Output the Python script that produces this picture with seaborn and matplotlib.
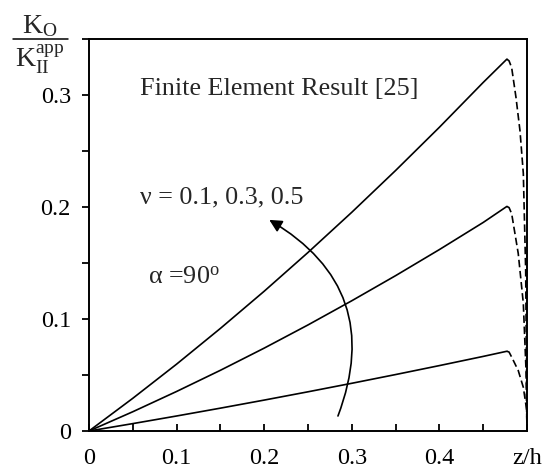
import matplotlib
matplotlib.use("Agg")
import matplotlib.pyplot as plt
import numpy as np
import pandas as pd
import seaborn as sns
from matplotlib.patches import FancyArrowPatch
from matplotlib.lines import Line2D
from matplotlib.ticker import FixedLocator

# Normalised crack-front position z/h and K_O / K_II^app for three Poisson ratios
z_solid = [0.0, 0.05, 0.10, 0.15, 0.20, 0.25, 0.30, 0.35, 0.40, 0.45, 0.477]
k_nu01 = [0.0, 0.0066, 0.0134, 0.0204, 0.0276, 0.0350, 0.0426, 0.0504, 0.0584, 0.0666, 0.0712]
k_nu03 = [0.0, 0.0172, 0.0353, 0.0542, 0.0740, 0.0947, 0.1163, 0.1387, 0.1620, 0.1862, 0.2005]
k_nu05 = [0.0, 0.0292, 0.0597, 0.0916, 0.1248, 0.1594, 0.1953, 0.2326, 0.2712, 0.3112, 0.3320]

# Boundary-layer drop near the free surface (dashed)
z_tail_nu01 = [0.477, 0.4795, 0.4825, 0.490, 0.4958, 0.4996, 0.5]
k_tail_nu01 = [0.0712, 0.0705, 0.0660, 0.0540, 0.0390, 0.0190, 0.0]
z_tail_nu03 = [0.477, 0.4795, 0.4825, 0.490, 0.4958, 0.4989, 0.5]
k_tail_nu03 = [0.2005, 0.1995, 0.1940, 0.1585, 0.1140, 0.0540, 0.0]
z_tail_nu05 = [0.477, 0.4795, 0.4825, 0.4874, 0.492, 0.4958, 0.4985, 0.5]
k_tail_nu05 = [0.3320, 0.3305, 0.3244, 0.2980, 0.2680, 0.2300, 0.1430, 0.0]

nu_values = [0.1, 0.3, 0.5]
x_ticks = [0.0, 0.1, 0.2, 0.3, 0.4, 0.5]
x_ticklabels = ["0", "0.1", "0.2", "0.3", "0.4", "z/h"]
y_ticks = [0.0, 0.1, 0.2, 0.3]
y_ticklabels = ["0", "0.1", "0.2", "0.3"]

solid = pd.concat([
    pd.DataFrame({"z": z_solid, "K": k, "nu": nu})
    for nu, k in zip(nu_values, [k_nu01, k_nu03, k_nu05])
])
tail = pd.concat([
    pd.DataFrame({"z": zz, "K": kk, "nu": nu})
    for nu, zz, kk in zip(nu_values,
                          [z_tail_nu01, z_tail_nu03, z_tail_nu05],
                          [k_tail_nu01, k_tail_nu03, k_tail_nu05])
])

sns.set_style("ticks")
plt.rcParams["font.family"] = ["Liberation Serif", "DejaVu Serif"]
plt.rcParams["mathtext.fontset"] = "custom"
plt.rcParams["mathtext.rm"] = "Liberation Serif"
plt.rcParams["mathtext.it"] = "Liberation Serif:italic"

fig = plt.figure(figsize=(5.52, 4.71), dpi=100)
fig.patch.set_facecolor("white")
ax = fig.add_axes([89 / 552, 40 / 471, 438 / 552, 392 / 471])
ax.set_facecolor("white")

sns.lineplot(data=solid, x="z", y="K", units="nu", estimator=None, sort=False,
             color="black", lw=1.2, ax=ax)
sns.lineplot(data=tail, x="z", y="K", units="nu", estimator=None, sort=False,
             color="black", lw=1.2, linestyle=(0, (4.5, 2.2)), ax=ax)

ax.set_xlim(0, 0.5)
ax.set_ylim(0, 0.35)
ax.set_xlabel("")
ax.set_ylabel("")

ax.set_xticks(x_ticks)
ax.set_xticklabels(x_ticklabels)
ax.xaxis.set_minor_locator(FixedLocator([0.05, 0.15, 0.25, 0.35, 0.45]))
ax.set_yticks(y_ticks)
ax.set_yticklabels(y_ticklabels)
ax.yaxis.set_minor_locator(FixedLocator([0.05, 0.15, 0.25, 0.35]))

ax.tick_params(axis="x", which="both", direction="in", length=5, width=1.3,
               labelsize=17.5, pad=12, colors="black")
ax.tick_params(axis="y", which="both", direction="out", length=5, width=1.3,
               labelsize=17.5, pad=8, colors="black")
for side in ["left", "right", "top", "bottom"]:
    ax.spines[side].set_visible(True)
    ax.spines[side].set_linewidth(1.4)
    ax.spines[side].set_color("black")

ax.text(0.0582, 0.300, "Finite Element Result [25]", fontsize=18.8, va="baseline")
ax.text(0.0582, 0.2033, "ν = 0.1, 0.3, 0.5", fontsize=18.8, va="baseline")
ax.text(0.0677, 0.1315, r"α =90$^{\mathrm{o}}$", fontsize=18.8, va="baseline")

arrow = FancyArrowPatch(posA=(0.2842, 0.0134), posB=(0.2058, 0.1885),
                        connectionstyle="arc3,rad=0.42",
                        arrowstyle="-|>,head_length=7.5,head_width=3.8",
                        color="black", lw=1.2, shrinkA=0, shrinkB=0,
                        mutation_scale=1, transform=ax.transData)
ax.add_patch(arrow)

# Stacked y-axis quantity K_O / K_II^app
fig.text(22 / 552, 1 - 33 / 471, r"$\mathrm{K_O}$", fontsize=20, va="baseline")
fig.add_artist(Line2D([13 / 552, 68 / 552], [1 - 39 / 471, 1 - 39 / 471],
                      color="black", lw=1.1, transform=fig.transFigure))
fig.text(15 / 552, 1 - 68 / 471, r"$\mathrm{K_{II}^{app}}$", fontsize=20, va="baseline")

fig.savefig("out.png", dpi=100, facecolor="white")
